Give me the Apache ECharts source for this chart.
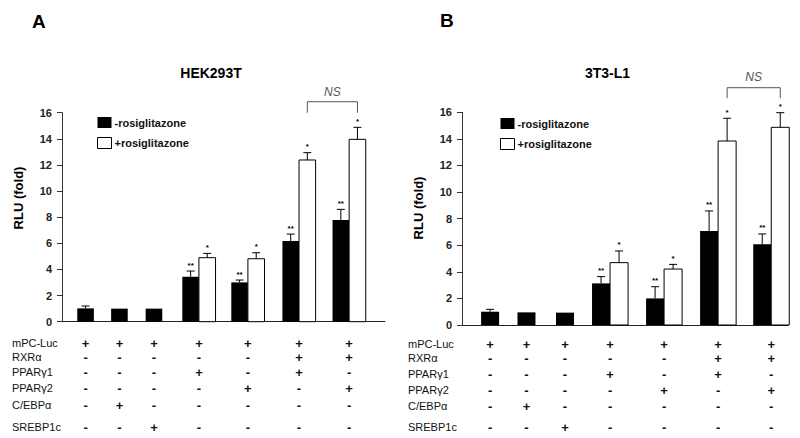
<!DOCTYPE html>
<html><head><meta charset="utf-8">
<script src="https://cdn.jsdelivr.net/npm/echarts/dist/echarts.min.js"></script>
<style>html,body{margin:0;padding:0;background:#fff}#c{width:800px;height:438px}</style>
</head><body><div id="c"></div>
<script>
// ---------- data ----------
const panelLetters = ['A', 'B'];
const panelTitles = ['HEK293T', '3T3-L1'];
const seriesNames = ['-rosiglitazone', '+rosiglitazone'];
const yTicks = [0, 2, 4, 6, 8, 10, 12, 14, 16];
const yAxisName = 'RLU (fold)';
const rowLabels = ['mPC-Luc', 'RXRα', 'PPARγ1', 'PPARγ2', 'C/EBPα', 'SREBP1c'];
const constructs = [
  ['+', '+', '+', '+', '+', '+', '+'],
  ['-', '-', '-', '-', '-', '+', '+'],
  ['-', '-', '-', '+', '-', '+', '-'],
  ['-', '-', '-', '-', '+', '-', '+'],
  ['-', '+', '-', '-', '-', '-', '-'],
  ['-', '-', '+', '-', '-', '-', '-']
];
const hekMinus    = [1.02, 1.0, 1.0, 3.44, 3.01, 6.17, 7.78];
const hekMinusErr = [0.18, 0, 0, 0.44, 0.18, 0.54, 0.82];
const hekPlus     = [null, null, null, 4.90, 4.82, 12.38, 13.96];
const hekPlusErr  = [null, null, null, 0.33, 0.46, 0.56, 0.92];
const l1Minus     = [1.0, 0.95, 0.93, 3.13, 2.0, 7.07, 6.07];
const l1MinusErr  = [0.18, 0, 0, 0.51, 0.88, 1.51, 0.78];
const l1Plus      = [null, null, null, 4.69, 4.21, 13.84, 14.87];
const l1PlusErr   = [null, null, null, 0.88, 0.35, 1.71, 1.10];
const minusStars = ['', '', '', '**', '**', '**', '**'];
const plusStars  = ['', '', '', '*', '*', '*', '*'];
const nsText = 'NS';
const nsGroups = [5, 6];

// ---------- layout ----------
const FONT = '"Liberation Sans", Arial, sans-serif';
const layout = [
  { left: 62, width: 323, top: 112.7, height: 209, xMax: 19.46,
    groupX: [1.42, 3.46, 5.54, 8.25, 11.2, 14.28, 17.3],
    rowY: [343, 357, 372, 388, 405, 427], rowLabelX: 12,
    title: [211, 72.5], letter: [32, 21], yName: [18, 198],
    legend: [92, 112],
    ns: { leg: 16.0, top: 16.84, textGap: 10 } },
  { left: 462, width: 326, top: 112.3, height: 212.7, xMax: 18.1,
    groupX: [1.56, 3.58, 5.72, 8.22, 11.22, 14.22, 17.17],
    rowY: [344, 358, 374, 390, 406, 427], rowLabelX: 408,
    title: [607.5, 72.5], letter: [440, 20], yName: [418, 208],
    legend: [495, 113],
    ns: { leg: 17.06, top: 17.85, textGap: 11 } }
];
const panelData = [
  { minus: hekMinus, minusErr: hekMinusErr, plus: hekPlus, plusErr: hekPlusErr },
  { minus: l1Minus, minusErr: l1MinusErr, plus: l1Plus, plusErr: l1PlusErr }
];

function barRender(fill, stroke, stars) {
  return function (params, api) {
    const cx = api.value(0), v = api.value(1), e = api.value(2), gi = api.value(3);
    const base = api.coord([cx, 0]), top = api.coord([cx, v]);
    const w = api.size([1, 0])[0];
    const ch = [{ type: 'rect',
      shape: { x: base[0] - w / 2, y: top[1], width: w, height: base[1] - top[1] },
      style: { fill: fill, stroke: stroke || null, lineWidth: stroke ? 1 : 0 } }];
    let yTop = top[1];
    if (e > 0) {
      const pe = api.coord([cx, v + e]);
      ch.push({ type: 'line', shape: { x1: top[0], y1: top[1], x2: pe[0], y2: pe[1] }, style: { stroke: '#000', lineWidth: 1 } });
      ch.push({ type: 'line', shape: { x1: pe[0] - 4, y1: pe[1], x2: pe[0] + 4, y2: pe[1] }, style: { stroke: '#000', lineWidth: 1 } });
      yTop = pe[1];
    }
    const s = stars[gi];
    if (s) ch.push({ type: 'text', x: top[0], y: yTop - 2,
      style: { text: s, fill: '#000', font: 'bold 8px ' + FONT, align: 'center', verticalAlign: 'bottom' } });
    return { type: 'group', children: ch };
  };
}

const grids = [], xAxes = [], yAxes = [], series = [], legends = [];
layout.forEach(function (L, p) {
  const D = panelData[p];
  grids.push({ left: L.left, top: L.top, width: L.width, height: L.height });
  xAxes.push({ type: 'value', gridIndex: p, min: 0, max: L.xMax,
    axisLine: { show: true, onZero: false, lineStyle: { color: '#222', width: 1 } },
    axisTick: { show: false }, axisLabel: { show: false }, splitLine: { show: false } });
  yAxes.push({ type: 'value', gridIndex: p, min: yTicks[0], max: yTicks[yTicks.length - 1],
    interval: yTicks[1] - yTicks[0],
    axisLine: { show: true, lineStyle: { color: '#333', width: 1 } },
    axisTick: { show: true, length: 5, lineStyle: { color: '#333' } },
    axisLabel: { color: '#222', fontWeight: 'bold', fontSize: 11, fontFamily: FONT, margin: 10 },
    splitLine: { show: false } });
  const minusData = [], plusData = [];
  D.minus.forEach(function (v, i) {
    const paired = D.plus[i] != null;
    minusData.push([L.groupX[i] + (paired ? -0.5 : 0), v, D.minusErr[i], i]);
    if (paired) plusData.push([L.groupX[i] + 0.5, D.plus[i], D.plusErr[i], i]);
  });
  series.push({ type: 'custom', name: seriesNames[0], xAxisIndex: p, yAxisIndex: p,
    itemStyle: { color: '#000' }, data: minusData, renderItem: barRender('#000', null, minusStars) });
  series.push({ type: 'custom', name: seriesNames[1], xAxisIndex: p, yAxisIndex: p,
    itemStyle: { color: '#fff', borderColor: '#000', borderWidth: 1 }, data: plusData,
    renderItem: barRender('#fff', '#000', plusStars) });
  series.push({ type: 'custom', xAxisIndex: p, yAxisIndex: p, clip: false, silent: true,
    data: [[L.groupX[nsGroups[0]] + 0.5, L.groupX[nsGroups[1]] + 0.5]],
    renderItem: function (params, api) {
      const a = api.coord([api.value(0), L.ns.leg]), b = api.coord([api.value(1), L.ns.leg]);
      const t = api.coord([api.value(0), L.ns.top])[1];
      return { type: 'group', children: [
        { type: 'polyline', shape: { points: [[a[0], a[1]], [a[0], t], [b[0], t], [b[0], b[1]]] },
          style: { stroke: '#555', lineWidth: 1, fill: null } },
        { type: 'text', x: (a[0] + b[0]) / 2, y: t - L.ns.textGap,
          style: { text: nsText, fill: '#555', font: 'italic 12px ' + FONT, align: 'center', verticalAlign: 'middle' } }
      ] };
    } });
  legends.push({ left: L.legend[0], top: L.legend[1], orient: 'vertical', icon: 'rect',
    itemWidth: 14, itemHeight: 11, itemGap: 9, selectedMode: false,
    textStyle: { fontWeight: 'bold', fontSize: 11, fontFamily: FONT, color: '#111', padding: [0, 0, 0, -2] },
    data: [{ name: seriesNames[0], itemStyle: { color: '#000' } },
           { name: seriesNames[1], itemStyle: { color: '#fff', borderColor: '#000', borderWidth: 1 } }] });
});

const chart = echarts.init(document.getElementById('c'), null, { renderer: 'svg' });
chart.setOption({ animation: false, backgroundColor: '#fff',
  grid: grids, xAxis: xAxes, yAxis: yAxes, series: series, legend: legends });

const graphics = [];
layout.forEach(function (L, p) {
  graphics.push({ type: 'text', x: L.letter[0], y: L.letter[1],
    style: { text: panelLetters[p], font: 'bold 19px ' + FONT, fill: '#000', align: 'left', verticalAlign: 'middle' } });
  graphics.push({ type: 'text', x: L.title[0], y: L.title[1],
    style: { text: panelTitles[p], font: 'bold 14px ' + FONT, fill: '#000', align: 'center', verticalAlign: 'middle' } });
  graphics.push({ type: 'text', x: L.yName[0], y: L.yName[1], rotation: Math.PI / 2,
    style: { text: yAxisName, font: 'bold 13px ' + FONT, fill: '#000', align: 'center', verticalAlign: 'middle' } });
  rowLabels.forEach(function (lab, r) {
    graphics.push({ type: 'text', x: L.rowLabelX, y: L.rowY[r],
      style: { text: lab, font: '11px ' + FONT, fill: '#111', align: 'left', verticalAlign: 'middle', lineHeight: 11 } });
    constructs[r].forEach(function (sym, c) {
      const px = chart.convertToPixel({ gridIndex: p }, [L.groupX[c], 0])[0];
      graphics.push({ type: 'text', x: px, y: L.rowY[r],
        style: { text: sym, font: 'bold 13px ' + FONT, fill: '#111', align: 'center', verticalAlign: 'middle', lineHeight: 11 } });
    });
  });
});
chart.setOption({ graphic: graphics });
</script></body></html>
